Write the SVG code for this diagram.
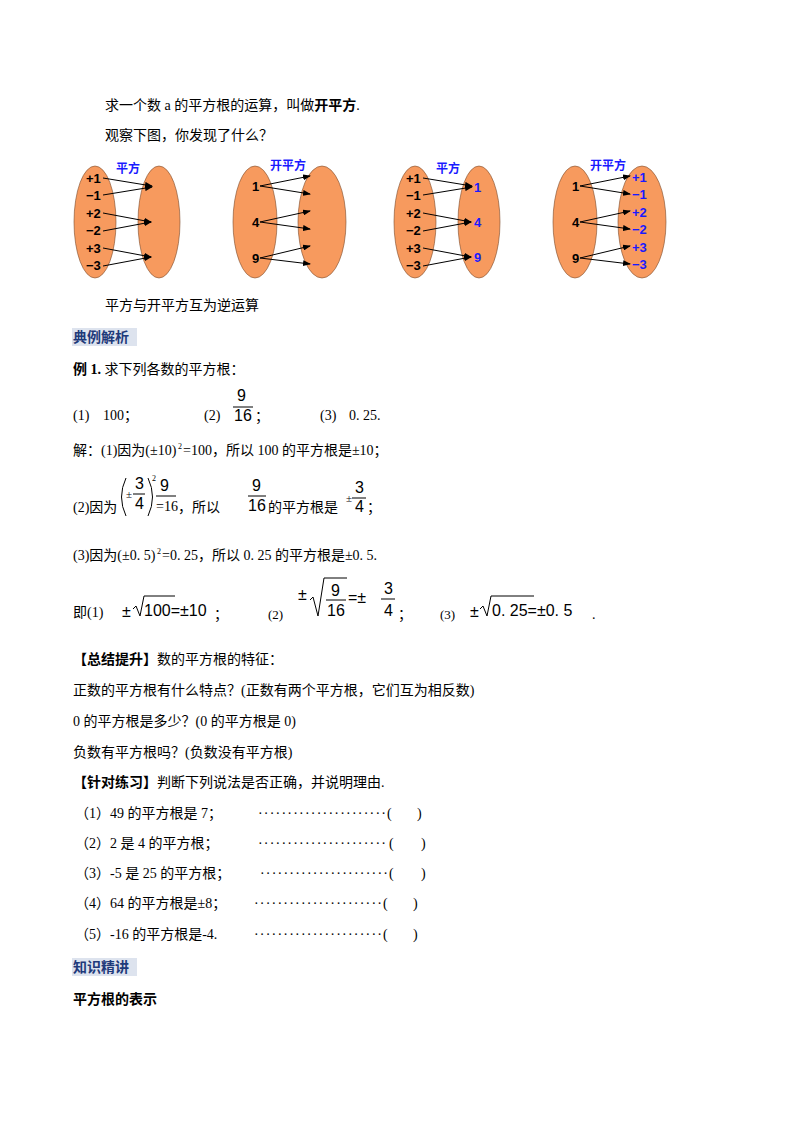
<svg xmlns="http://www.w3.org/2000/svg" width="800" height="1132" viewBox="0 0 800 1132">
<style>
text{font-family:"Liberation Serif","Noto Sans CJK SC",serif;font-size:14px;fill:#000}
.b{font-weight:bold}
.h{font-family:"Noto Sans CJK SC",sans-serif;font-weight:bold;fill:#1f3a7a}
.d{font-family:"Liberation Sans","Noto Sans CJK SC",sans-serif;font-size:13px;font-weight:bold}
.blue{fill:#1a1aff}
.t{font-family:"Noto Sans CJK SC",sans-serif;font-size:12px;font-weight:bold;fill:#1a1aff}
.e{fill:#f79a5e;stroke:#7a4a2a;stroke-width:0.6}
.a{stroke:#000;stroke-width:1;marker-end:url(#ar)}
.m{font-family:"Liberation Sans",sans-serif;font-size:16px}
.ln{stroke:#000;stroke-width:1;fill:none}
.s{font-size:8px}
.pm{font-size:11px}
.sm{font-size:13px}
</style>
<defs><marker id="ar" markerWidth="8" markerHeight="6" refX="7" refY="3" orient="auto" markerUnits="userSpaceOnUse"><path d="M0,0L8,3L0,6z" fill="#000"/></marker></defs>
<rect width="800" height="1132" fill="#fff"/>
<text x="105" y="110">求一个数 a 的平方根的运算，叫做<tspan class="b">开平方</tspan>.</text>
<text x="105" y="140">观察下图，你发现了什么？</text>

<g id="d1">
<ellipse class="e" cx="95" cy="222" rx="21" ry="56"/><ellipse class="e" cx="159" cy="222" rx="21" ry="56"/>
<text class="t" x="116" y="173">平方</text>
<text class="d" x="86" y="183">+1</text><text class="d" x="86" y="200">−1</text><text class="d" x="86" y="218">+2</text><text class="d" x="86" y="235">−2</text><text class="d" x="86" y="253">+3</text><text class="d" x="86" y="270">−3</text>
</g>
<g id="d2">
<ellipse class="e" cx="255" cy="222" rx="22" ry="56"/><ellipse class="e" cx="322" cy="222" rx="24" ry="56"/>
<text class="t" x="270" y="170">开平方</text>
<text class="d" x="252" y="191">1</text><text class="d" x="252" y="227">4</text><text class="d" x="252" y="263">9</text>
</g>
<g id="d3">
<ellipse class="e" cx="415" cy="222" rx="21" ry="56"/><ellipse class="e" cx="479" cy="222" rx="21" ry="56"/>
<text class="t" x="436" y="173">平方</text>
<text class="d" x="406" y="183">+1</text><text class="d" x="406" y="200">−1</text><text class="d" x="406" y="218">+2</text><text class="d" x="406" y="235">−2</text><text class="d" x="406" y="253">+3</text><text class="d" x="406" y="270">−3</text>
<text class="d blue" x="474" y="192">1</text><text class="d blue" x="474" y="227">4</text><text class="d blue" x="474" y="262">9</text>
</g>
<g id="d4">
<ellipse class="e" cx="575" cy="222" rx="22" ry="56"/><ellipse class="e" cx="642" cy="222" rx="24" ry="56"/>
<text class="t" x="590" y="170">开平方</text>
<text class="d" x="572" y="191">1</text><text class="d" x="572" y="227">4</text><text class="d" x="572" y="263">9</text>
<text class="d blue" x="632" y="182">+1</text><text class="d blue" x="632" y="199">−1</text><text class="d blue" x="632" y="217">+2</text><text class="d blue" x="632" y="234">−2</text><text class="d blue" x="632" y="252">+3</text><text class="d blue" x="632" y="269">−3</text>
</g>
<g id="connectors">
<line class="a" x1="103" y1="178" x2="152" y2="186"/><line class="a" x1="103" y1="195" x2="152" y2="187"/>
<line class="a" x1="103" y1="213" x2="151" y2="222"/><line class="a" x1="103" y1="231" x2="151" y2="222"/>
<line class="a" x1="103" y1="248" x2="151" y2="257"/><line class="a" x1="103" y1="266" x2="151" y2="257"/>
<line class="a" x1="260" y1="186" x2="310" y2="176"/><line class="a" x1="260" y1="186" x2="310" y2="194"/>
<line class="a" x1="260" y1="222" x2="310" y2="211"/><line class="a" x1="260" y1="222" x2="310" y2="229"/>
<line class="a" x1="260" y1="258" x2="310" y2="246"/><line class="a" x1="260" y1="258" x2="310" y2="264"/>
<line class="a" x1="423" y1="178" x2="472" y2="186"/><line class="a" x1="423" y1="195" x2="472" y2="187"/>
<line class="a" x1="423" y1="213" x2="471" y2="222"/><line class="a" x1="423" y1="231" x2="471" y2="222"/>
<line class="a" x1="423" y1="248" x2="471" y2="257"/><line class="a" x1="423" y1="266" x2="471" y2="257"/>
<line class="a" x1="580" y1="186" x2="630" y2="176"/><line class="a" x1="580" y1="186" x2="630" y2="194"/>
<line class="a" x1="580" y1="222" x2="630" y2="211"/><line class="a" x1="580" y1="222" x2="630" y2="229"/>
<line class="a" x1="580" y1="258" x2="630" y2="246"/><line class="a" x1="580" y1="258" x2="630" y2="264"/>
</g>

<text x="105" y="310">平方与开平方互为逆运算</text>
<rect x="72" y="328" width="65" height="18" fill="#dde3ee"/>
<text class="h" x="73" y="342">典例解析</text>
<text x="73" y="374"><tspan class="b">例 1.</tspan> 求下列各数的平方根：</text>
<text x="73" y="420">(1)</text><text x="103" y="420">100；</text>
<text x="204" y="420">(2)</text>
<text x="237" y="401" class="m">9</text><line x1="233" y1="407" x2="253" y2="407" stroke="#000"/><text x="234" y="421" class="m">16</text><text x="255" y="421">；</text>
<text x="320" y="420">(3)</text><text x="349" y="420">0. 25.</text>
<text x="73" y="455">解：(1)因为(±10)</text><text x="178" y="449" class="s">2</text><text x="183" y="455">=100，所以 100 的平方根是±10；</text>
<text x="73" y="512">(2)因为</text>
<path class="ln" d="M126,478 Q117,497 126,516"/><text x="126" y="498" class="pm">±</text>
<text x="135" y="489" class="m">3</text><line x1="133" y1="494" x2="145" y2="494" stroke="#000"/><text x="135" y="509" class="m">4</text>
<path class="ln" d="M148,478 Q157,497 148,516"/><text x="152" y="481" class="s">2</text>
<text x="160" y="491" class="m">9</text><line x1="156" y1="496" x2="176" y2="496" stroke="#000"/><text x="156" y="511">=16</text>
<text x="178" y="512">，所以</text>
<text x="252" y="491" class="m">9</text><line x1="248" y1="496" x2="266" y2="496" stroke="#000"/><text x="248" y="511" class="m">16</text>
<text x="268" y="512">的平方根是</text>
<text x="346" y="502" class="pm">±</text><text x="355" y="493" class="m">3</text><line x1="352" y1="498" x2="366" y2="498" stroke="#000"/><text x="355" y="512" class="m">4</text><text x="367" y="512">；</text>
<text x="73" y="560">(3)因为(±0. 5)</text><text x="157" y="554" class="s">2</text><text x="162" y="560">=0. 25，所以 0. 25 的平方根是±0. 5.</text>
<text x="73" y="617">即(1)</text>
<text x="122" y="617" class="m">±</text><path class="ln" d="M133,609 L136,606 L140,616 L144,596 L175,596"/><text x="144" y="616" class="m">100=±10</text><text x="214" y="619">；</text>
<text x="268" y="619" class="sm">(2)</text>
<text x="298" y="600" class="m">±</text><path class="ln" d="M310,600 L313,597 L318,616 L324,578 L347,578"/>
<text x="331" y="596" class="m">9</text><line x1="326" y1="600" x2="346" y2="600" stroke="#000"/><text x="327" y="616" class="m">16</text>
<text x="348" y="603" class="m">=±</text><text x="384" y="594" class="m">3</text><line x1="381" y1="599" x2="395" y2="599" stroke="#000"/><text x="384" y="616" class="m">4</text><text x="398" y="619">；</text>
<text x="440" y="619" class="sm">(3)</text>
<text x="470" y="617" class="m">±</text><path class="ln" d="M480,609 L483,606 L487,616 L491,596 L534,596"/><text x="492" y="616" class="m">0. 25=±0. 5</text><text x="592" y="619">.</text>

<text x="73" y="664"><tspan class="b">【总结提升】</tspan>数的平方根的特征：</text>
<text x="73" y="695">正数的平方根有什么特点？(正数有两个平方根，它们互为相反数)</text>
<text x="73" y="726">0 的平方根是多少？(0 的平方根是 0)</text>
<text x="73" y="757">负数有平方根吗？(负数没有平方根)</text>
<text x="73" y="787"><tspan class="b">【针对练习】</tspan>判断下列说法是否正确，并说明理由.</text>
<text x="75" y="818">（1）49 的平方根是 7；</text><text x="258" y="818" textLength="128" lengthAdjust="spacing">······················</text><text x="387" y="818">(</text><text x="417" y="818">)</text>
<text x="75" y="848">（2）2 是 4 的平方根；</text><text x="258" y="848" textLength="128" lengthAdjust="spacing">······················</text><text x="389" y="848">(</text><text x="421" y="848">)</text>
<text x="75" y="878">（3）-5 是 25 的平方根；</text><text x="260" y="878" textLength="128" lengthAdjust="spacing">······················</text><text x="389" y="878">(</text><text x="421" y="878">)</text>
<text x="75" y="908">（4）64 的平方根是±8；</text><text x="254" y="908" textLength="128" lengthAdjust="spacing">······················</text><text x="383" y="908">(</text><text x="413" y="908">)</text>
<text x="75" y="939">（5）-16 的平方根是-4.</text><text x="254" y="939" textLength="128" lengthAdjust="spacing">······················</text><text x="383" y="939">(</text><text x="413" y="939">)</text>
<rect x="72" y="958" width="65" height="18" fill="#dde3ee"/>
<text class="h" x="73" y="972">知识精讲</text>
<text x="73" y="1004" class="b">平方根的表示</text>
</svg>
